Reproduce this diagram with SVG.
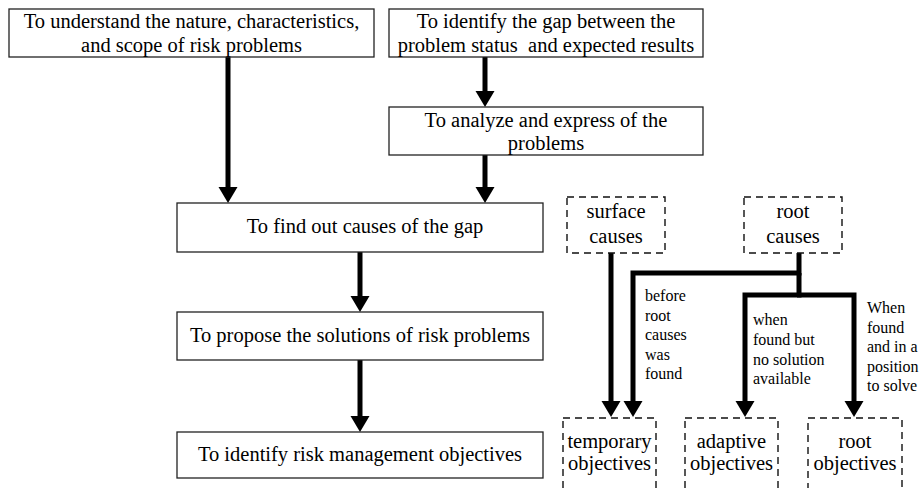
<svg xmlns="http://www.w3.org/2000/svg" width="922" height="488" viewBox="0 0 922 488">
<style>
.box{fill:#fff;stroke:#222;stroke-width:1.3}
.dbox{fill:none;stroke:#111;stroke-width:1.4;stroke-dasharray:7,5}
.t{font-family:"Liberation Serif","Times New Roman",serif;font-size:20.5px;fill:#000;text-anchor:middle}
.s{font-family:"Liberation Serif","Times New Roman",serif;font-size:16px;fill:#000}
.c{fill:none;stroke:#000;stroke-width:5}
</style>
<defs>
<marker id="ah" markerUnits="userSpaceOnUse" markerWidth="16" markerHeight="20" viewBox="0 0 16 20" refX="1" refY="10" orient="auto">
<path d="M0,0.5 L16,10 L0,19.5 z" fill="#000"/>
</marker>
</defs>
<g id="connectors">
<line class="c" x1="228" y1="57" x2="228" y2="188" marker-end="url(#ah)"/>
<line class="c" x1="485" y1="57" x2="485" y2="92" marker-end="url(#ah)"/>
<line class="c" x1="485" y1="155" x2="485" y2="188" marker-end="url(#ah)"/>
<line class="c" x1="360" y1="252" x2="360" y2="297" marker-end="url(#ah)"/>
<line class="c" x1="360" y1="360" x2="360" y2="417" marker-end="url(#ah)"/>
<line class="c" x1="611" y1="253" x2="611" y2="402" marker-end="url(#ah)"/>
<path class="c" d="M799,253 V273 H633 V402" marker-end="url(#ah)"/>
<path class="c" d="M799,273 V295 H745 V402" marker-end="url(#ah)"/>
<path class="c" d="M797,295 H854 V402" marker-end="url(#ah)"/>
</g>
<g id="understand">
<rect class="box" x="9" y="9" width="365" height="48"/>
<text class="t" x="191.5" y="28">To understand the nature, characteristics,</text>
<text class="t" x="191.5" y="52">and scope of risk problems</text>
</g>
<g id="identify-gap">
<rect class="box" x="389" y="9" width="314" height="48"/>
<text class="t" x="546" y="28">To identify the gap between the</text>
<text class="t" x="546" y="52" xml:space="preserve">problem status  and expected results</text>
</g>
<g id="analyze">
<rect class="box" x="389" y="107" width="314" height="48"/>
<text class="t" x="546" y="127">To analyze and express of the</text>
<text class="t" x="546" y="150">problems</text>
</g>
<g id="find-causes">
<rect class="box" x="177" y="203" width="366" height="49"/>
<text class="t" x="365" y="233">To find out causes of the gap</text>
</g>
<g id="propose">
<rect class="box" x="177" y="312" width="366" height="48"/>
<text class="t" x="360" y="342">To propose the solutions of risk problems</text>
</g>
<g id="objectives">
<rect class="box" x="177" y="432" width="366" height="46"/>
<text class="t" x="360" y="461">To identify risk management objectives</text>
</g>
<g id="surface-causes">
<rect class="dbox" x="567" y="197" width="98" height="56"/>
<text class="t" x="616" y="218">surface</text>
<text class="t" x="616" y="243">causes</text>
</g>
<g id="root-causes">
<rect class="dbox" x="744" y="197" width="98" height="56"/>
<text class="t" x="793" y="218">root</text>
<text class="t" x="793" y="243">causes</text>
</g>
<g id="temporary-objectives">
<rect class="dbox" x="563" y="418" width="93" height="80"/>
<text class="t" x="609.5" y="448">temporary</text>
<text class="t" x="609.5" y="470">objectives</text>
</g>
<g id="adaptive-objectives">
<rect class="dbox" x="685" y="418" width="93" height="80"/>
<text class="t" x="731.5" y="448">adaptive</text>
<text class="t" x="731.5" y="470">objectives</text>
</g>
<g id="root-objectives">
<rect class="dbox" x="808" y="418" width="94" height="80"/>
<text class="t" x="855" y="448">root</text>
<text class="t" x="855" y="470">objectives</text>
</g>
<g id="labels">
<text class="s" x="645" y="301">before</text>
<text class="s" x="645" y="320.5">root</text>
<text class="s" x="645" y="340">causes</text>
<text class="s" x="645" y="359.5">was</text>
<text class="s" x="645" y="379">found</text>
<text class="s" x="753" y="325">when</text>
<text class="s" x="753" y="345">found but</text>
<text class="s" x="753" y="364.5">no solution</text>
<text class="s" x="753" y="384">available</text>
<text class="s" x="867" y="313">When</text>
<text class="s" x="867" y="332.5">found</text>
<text class="s" x="867" y="352">and in a</text>
<text class="s" x="867" y="371.5">position</text>
<text class="s" x="867" y="391">to solve</text>
</g>
</svg>
